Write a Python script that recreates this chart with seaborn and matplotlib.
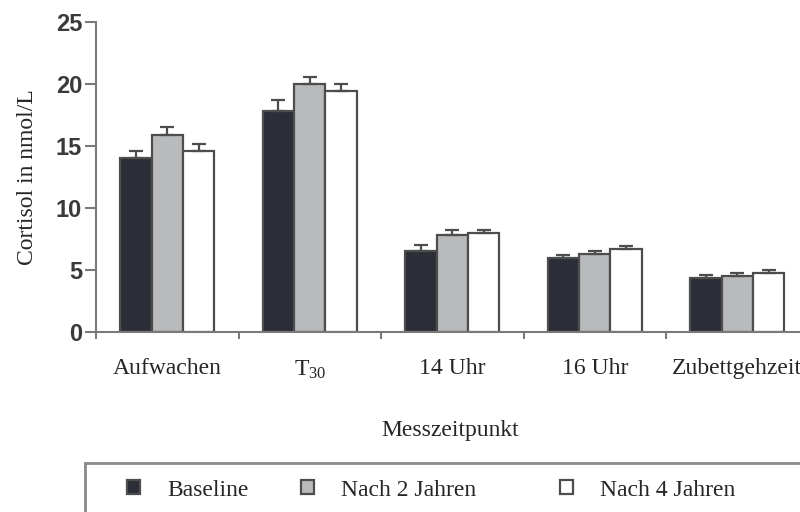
import matplotlib.pyplot as plt
from matplotlib.patches import Rectangle
import pandas as pd
import seaborn as sns

# ---- data ----
timepoints = ["Aufwachen", "T$_{30}$", "14 Uhr", "16 Uhr", "Zubettgehzeit"]
groups = ["Baseline", "Nach 2 Jahren", "Nach 4 Jahren"]

baseline = [14.0, 17.8, 6.5, 5.95, 4.35]
nach_2 = [15.9, 20.0, 7.8, 6.3, 4.5]
nach_4 = [14.6, 19.4, 8.0, 6.7, 4.75]

err_baseline = [0.6, 0.9, 0.5, 0.25, 0.25]
err_nach_2 = [0.6, 0.6, 0.4, 0.2, 0.25]
err_nach_4 = [0.6, 0.6, 0.25, 0.2, 0.25]

colors = ["#2b2e36", "#b9babc", "#ffffff"]
edge = "#4d4d4d"

df = pd.DataFrame({
    "Messzeitpunkt": timepoints * 3,
    "Gruppe": [g for g in groups for _ in timepoints],
    "Cortisol": baseline + nach_2 + nach_4,
})
errs = [err_baseline, err_nach_2, err_nach_4]

sns.set_style("ticks")
plt.rcParams["font.family"] = ["Liberation Serif", "DejaVu Serif"]
plt.rcParams["mathtext.fontset"] = "custom"
plt.rcParams["mathtext.rm"] = "Liberation Serif"
plt.rcParams["mathtext.it"] = "Liberation Serif:italic"

fig = plt.figure(figsize=(8, 5.12), dpi=100)
ax = fig.add_axes([96 / 800, 1 - 332 / 512, 1 - 96 / 800, 310 / 512])

sns.barplot(
    data=df, x="Messzeitpunkt", y="Cortisol", hue="Gruppe",
    order=timepoints, hue_order=groups, palette=colors,
    saturation=1, width=0.66, errorbar=None,
    edgecolor=edge, linewidth=1.6, ax=ax,
)

# upward-only error bars on top of each bar
for cont, err in zip(ax.containers, errs):
    xs = [b.get_x() + b.get_width() / 2 for b in cont]
    ys = [b.get_height() for b in cont]
    ax.errorbar(xs, ys, yerr=[[0] * len(err), err], fmt="none",
                ecolor=edge, elinewidth=1.6, capsize=5.2, capthick=1.6,
                zorder=1)

ax.set_yticks([0, 5, 10, 15, 20, 25])
ax.set_yticklabels(["0", "5", "10", "15", "20", "25"],
                   family="Liberation Sans", weight="bold", color="#3a3a3a",
                   fontsize=17)
ax.tick_params(axis="y", length=8, width=1.5, color="#7a7a7a", pad=2)

ax.set_xticks(range(len(timepoints)))
ax.set_xticklabels(timepoints, fontsize=17)
ax.tick_params(axis="x", which="major", length=0, pad=19)
# small ticks between the groups
ax.set_xticks([i - 0.5 for i in range(len(timepoints))], minor=True)
ax.tick_params(axis="x", which="minor", length=5, width=1.5, color="#7a7a7a")

# limits last, set_xticks can widen the view
ax.set_ylim(0, 25)
ax.set_xlim(-0.5, 4.44)

for side in ["top", "right"]:
    ax.spines[side].set_visible(False)
for side in ["left", "bottom"]:
    ax.spines[side].set_color("#7a7a7a")
    ax.spines[side].set_linewidth(1.5)

ax.set_ylabel("Cortisol in nmol/L", fontsize=17)
ax.yaxis.set_label_coords(-0.083, 0.5)
ax.set_xlabel("Messzeitpunkt", fontsize=17)
ax.xaxis.set_label_coords(0.503, -0.285)

handles, labels = ax.get_legend_handles_labels()
ax.get_legend().remove()

# one legend entry per slot, so the uneven spacing of the original is kept
legend_x = [127, 301, 560]
for h, lab, x0 in zip(handles, labels, legend_x):
    fig.legend([h], [lab], loc="center left", bbox_to_anchor=(x0 / 800, 1 - 490 / 512),
               frameon=False, fontsize=17, borderpad=0, borderaxespad=0,
               handlelength=0.55, handleheight=0.55, handletextpad=1.15)

fig.patches.append(Rectangle((85 / 800, -0.2), 1.0, 0.2 + (1 - 463 / 512),
                             transform=fig.transFigure, fill=False,
                             edgecolor="#8a8a8a", linewidth=2))

fig.savefig("out.png", dpi=100)
